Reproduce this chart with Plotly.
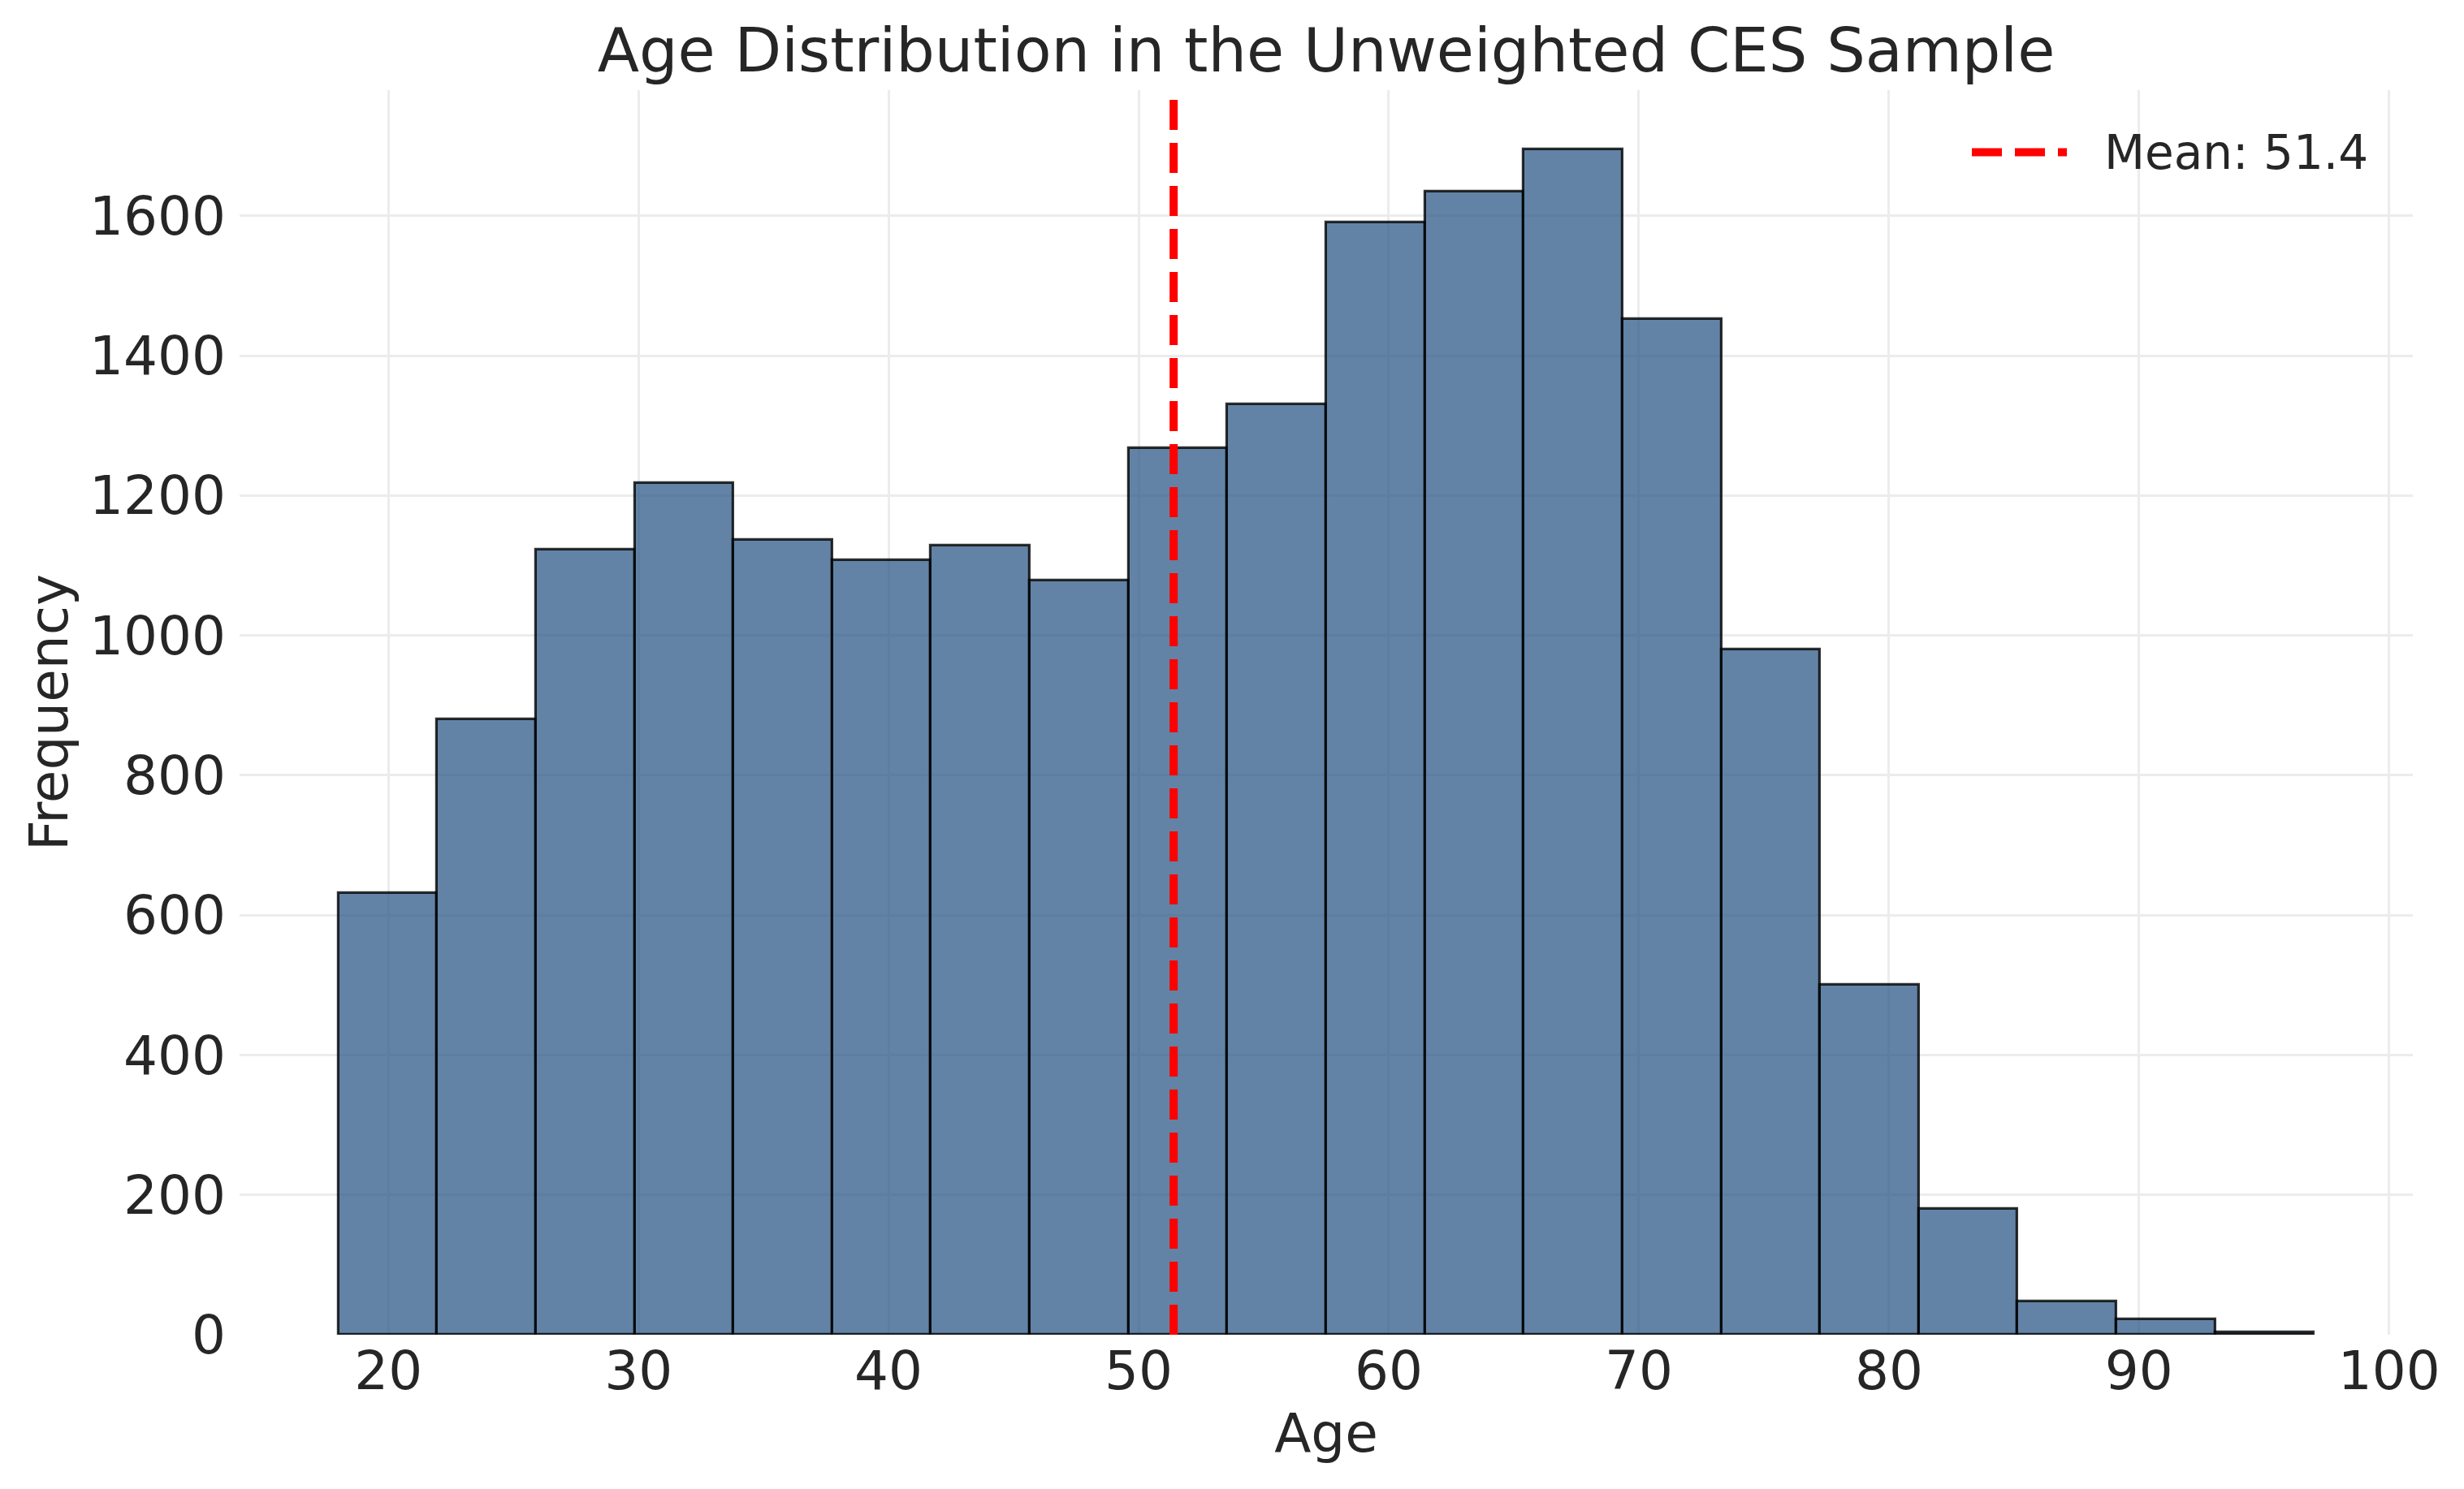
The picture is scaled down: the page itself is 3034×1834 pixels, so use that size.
import plotly.graph_objects as go

# ---- data ----
bin_start = 18.0
bin_end = 97.0
n_bins = 20
counts = [632, 880, 1123, 1218, 1137, 1108, 1128, 1079, 1268, 1330,
          1590, 1635, 1695, 1452, 980, 500, 180, 48, 22, 3]
mean_age = 51.4
x_ticks = [20, 30, 40, 50, 60, 70, 80, 90, 100]
y_ticks = [0, 200, 400, 600, 800, 1000, 1200, 1400, 1600]
title_text = "Age Distribution in the Unweighted CES Sample"
x_label = "Age"
y_label = "Frequency"
legend_label = f"Mean: {mean_age}"

bin_w = (bin_end - bin_start) / n_bins
centers = [bin_start + bin_w * (i + 0.5) for i in range(n_bins)]

# page body has an 8px margin; figure sized to fit the 3034x1834 window
OFF = 8
W, H = 3034 - 2 * OFF, 1834 - 2 * OFF
# target plot area in window pixels
PL, PR, PT, PB = 295, 2971, 111, 1644
ml, mr, mt, mb = PL - OFF, W + OFF - PR, PT - OFF, H + OFF - PB
pw, ph = PR - PL, PB - PT

FONT = "DejaVu Sans"
TXT = "#262626"

def px_x(x):
    return (x - PL) / pw

def px_y(y):
    return (PB - y) / ph

fig = go.Figure()
fig.add_trace(go.Bar(
    x=centers, y=counts, width=[bin_w] * n_bins,
    marker=dict(color="rgba(46,90,135,0.75)",
                line=dict(color="rgba(0,0,0,0.8)", width=3.2)),
    showlegend=False,
))

xmin = bin_start - 0.05 * (bin_end - bin_start)
xmax = bin_end + 0.05 * (bin_end - bin_start)
ymax = max(counts) * 1.05

# mean line
fig.add_shape(type="line", xref="x", yref="paper", x0=mean_age, x1=mean_age,
              y0=0, y1=1, line=dict(color="#ff0000", width=10, dash="37px,16px"),
              layer="above")

# legend (drawn to match matplotlib's legend handle)
ly = px_y(187.5)
fig.add_shape(type="line", xref="paper", yref="paper",
              x0=px_x(2428), x1=px_x(2545), y0=ly, y1=ly,
              line=dict(color="#ff0000", width=10, dash="37px,16px"))
fig.add_annotation(xref="paper", yref="paper", x=px_x(2589), y=ly, text=legend_label,
                   showarrow=False, xanchor="left", yanchor="middle",
                   font=dict(family=FONT, size=58, color=TXT))

fig.update_layout(
    width=W, height=H,
    margin=dict(l=ml, r=mr, t=mt, b=mb, pad=0),
    paper_bgcolor="white", plot_bgcolor="white",
    bargap=0,
    font=dict(family=FONT, color=TXT),
    title=dict(text=title_text, xref="paper", x=0.5, xanchor="center",
               yref="container", y=1 - (62 - OFF) / H, yanchor="middle",
               font=dict(family=FONT, size=75, color=TXT)),
    xaxis=dict(range=[xmin, xmax], tickvals=x_ticks, showgrid=True,
               gridcolor="#ececec", gridwidth=3, zeroline=False, showline=False,
               ticks="", ticklen=0, tickfont=dict(size=66, color=TXT), ticklabelstandoff=0,
               title=dict(text=x_label, font=dict(size=66, color=TXT), standoff=13)),
    yaxis=dict(range=[0, ymax], tickvals=y_ticks, showgrid=True,
               gridcolor="#ececec", gridwidth=3, zeroline=False, showline=False,
               ticks="", ticklen=0, tickfont=dict(size=66, color=TXT), ticklabelstandoff=16,
               title=dict(text=y_label, font=dict(size=66, color=TXT), standoff=4)),
)

fig.write_html("out.html")
